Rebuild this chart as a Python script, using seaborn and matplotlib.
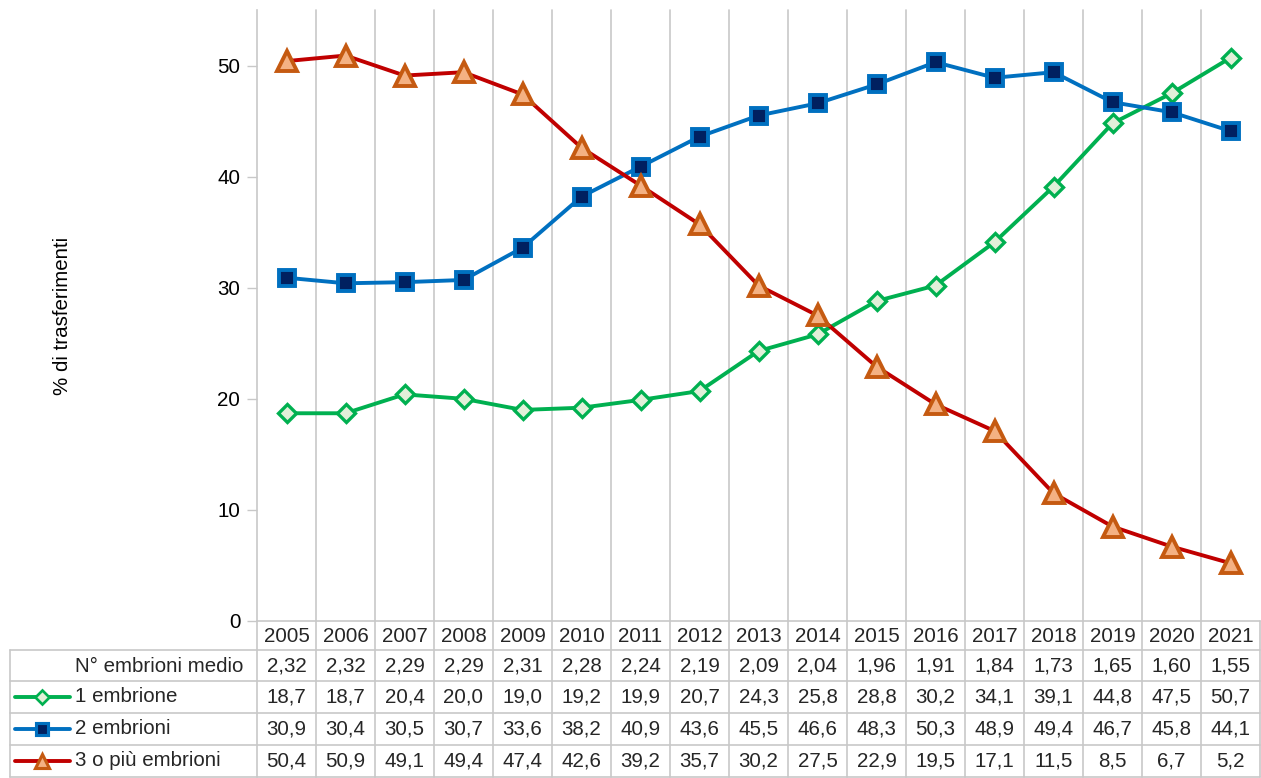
import matplotlib
matplotlib.use("Agg")
import matplotlib.pyplot as plt
import matplotlib.transforms as mtransforms
from matplotlib.lines import Line2D
import seaborn as sns
import pandas as pd
import numpy as np

years = [str(y) for y in range(2005, 2022)]
n_medio = ["2,32", "2,32", "2,29", "2,29", "2,31", "2,28", "2,24", "2,19", "2,09",
           "2,04", "1,96", "1,91", "1,84", "1,73", "1,65", "1,60", "1,55"]
emb1 = [18.7, 18.7, 20.4, 20.0, 19.0, 19.2, 19.9, 20.7, 24.3, 25.8, 28.8, 30.2, 34.1, 39.1, 44.8, 47.5, 50.7]
emb2 = [30.9, 30.4, 30.5, 30.7, 33.6, 38.2, 40.9, 43.6, 45.5, 46.6, 48.3, 50.3, 48.9, 49.4, 46.7, 45.8, 44.1]
emb3 = [50.4, 50.9, 49.1, 49.4, 47.4, 42.6, 39.2, 35.7, 30.2, 27.5, 22.9, 19.5, 17.1, 11.5, 8.5, 6.7, 5.2]
series_names = ["1 embrione", "2 embrioni", "3 o più embrioni"]
row_label_medio = "N° embrioni medio"
ylabel = "% di trasferimenti"

sns.set_theme(style="white")
plt.rcParams["font.family"] = ["Liberation Sans", "DejaVu Sans"]

FS = 14.8
GRID = "#c8c8c8"
W, H = 1261, 778
fig = plt.figure(figsize=(W / 100, H / 100), dpi=100)
x0, x1 = 257, 1260
ytop, ybot = 10, 621
ax = fig.add_axes([x0 / W, 1 - ybot / H, (x1 - x0) / W, (ybot - ytop) / H])
ax.patch.set_alpha(0)

styles = [
    dict(color="#00b050", marker="D", markersize=9.5, markerfacecolor="#e2f0d9",
         markeredgecolor="#00b050", markeredgewidth=2.4),
    dict(color="#0070c0", marker="s", markersize=11.5, markerfacecolor="#002060",
         markeredgecolor="#0070c0", markeredgewidth=2.8),
    dict(color="#c00000", marker="^", markersize=14, markerfacecolor="#f4b183",
         markeredgecolor="#c55a11", markeredgewidth=2.8),
]
xs = np.arange(len(years))
for name, vals, st in zip(series_names, [emb1, emb2, emb3], styles):
    df = pd.DataFrame({"x": xs, "y": vals})
    sns.lineplot(data=df, x="x", y="y", ax=ax, linewidth=2.8, legend=False, **st)

ax.set_xlim(-0.5, len(years) - 0.5)
ax.set_ylim(0, 55)
ax.set_yticks([0, 10, 20, 30, 40, 50])
ax.set_xticks([])
for s in ["top", "right", "bottom"]:
    ax.spines[s].set_visible(False)
ax.spines["left"].set_color(GRID)
ax.spines["left"].set_linewidth(1.2)
ax.tick_params(axis="y", left=True, length=7, width=1, color=GRID,
               labelsize=FS, labelcolor="black", pad=5)
ax.set_xlabel("")
ax.set_ylabel(ylabel, fontsize=FS, color="black")
ax.yaxis.set_label_coords((72 - x0) / (x1 - x0), 0.5)

# vertical gridlines continuing down through the table
bt = mtransforms.blended_transform_factory(ax.transData, fig.transFigure)
def fy(py):
    return 1 - py / H
for b in np.arange(0.5, len(years) - 0.5, 1.0):
    fig.add_artist(Line2D([b, b], [fy(777), fy(ytop)], transform=bt,
                          color=GRID, linewidth=1.2, zorder=0))
fig.add_artist(Line2D([len(years) - 0.5] * 2, [fy(777), fy(621)], transform=bt,
                      color=GRID, linewidth=1.2))
# table borders
ft = fig.transFigure
fig.add_artist(Line2D([x0 / W, x0 / W], [fy(777), fy(621)], transform=ft, color=GRID, linewidth=1.2))
fig.add_artist(Line2D([10 / W, 10 / W], [fy(777), fy(650)], transform=ft, color=GRID, linewidth=1.2))
fig.add_artist(Line2D([x0 / W, x1 / W], [fy(621), fy(621)], transform=ft, color=GRID, linewidth=1.2))
for py in [650, 681, 713, 745, 777]:
    fig.add_artist(Line2D([10 / W, x1 / W], [fy(py), fy(py)], transform=ft, color=GRID, linewidth=1.2))

# table text
header_y = 636
row_ys = [666, 697, 729, 761]
fmt = lambda v: f"{v:.1f}".replace(".", ",")
rows = [n_medio, [fmt(v) for v in emb1], [fmt(v) for v in emb2], [fmt(v) for v in emb3]]
labels = [row_label_medio] + series_names
for i, yr in enumerate(years):
    fig.text(i, fy(header_y), yr, transform=bt, ha="center", va="center", fontsize=FS)
for ry, lab, vals in zip(row_ys, labels, rows):
    fig.text(75 / W, fy(ry), lab, transform=ft, ha="left", va="center", fontsize=FS)
    for i, v in enumerate(vals):
        fig.text(i, fy(ry), v, transform=bt, ha="center", va="center", fontsize=FS)

# legend keys in table rows
for yc, st in zip(row_ys[1:], styles):
    yf = fy(yc)
    fig.add_artist(Line2D([15 / W, 70 / W], [yf, yf], transform=ft,
                          color=st["color"], linewidth=2.8))
    fig.add_artist(Line2D([42 / W], [yf], transform=ft, linestyle="none",
                          marker=st["marker"], markersize=st["markersize"] * 0.7,
                          markerfacecolor=st["markerfacecolor"],
                          markeredgecolor=st["markeredgecolor"],
                          markeredgewidth=st["markeredgewidth"] * 0.8))

fig.savefig("out.png", dpi=100)
